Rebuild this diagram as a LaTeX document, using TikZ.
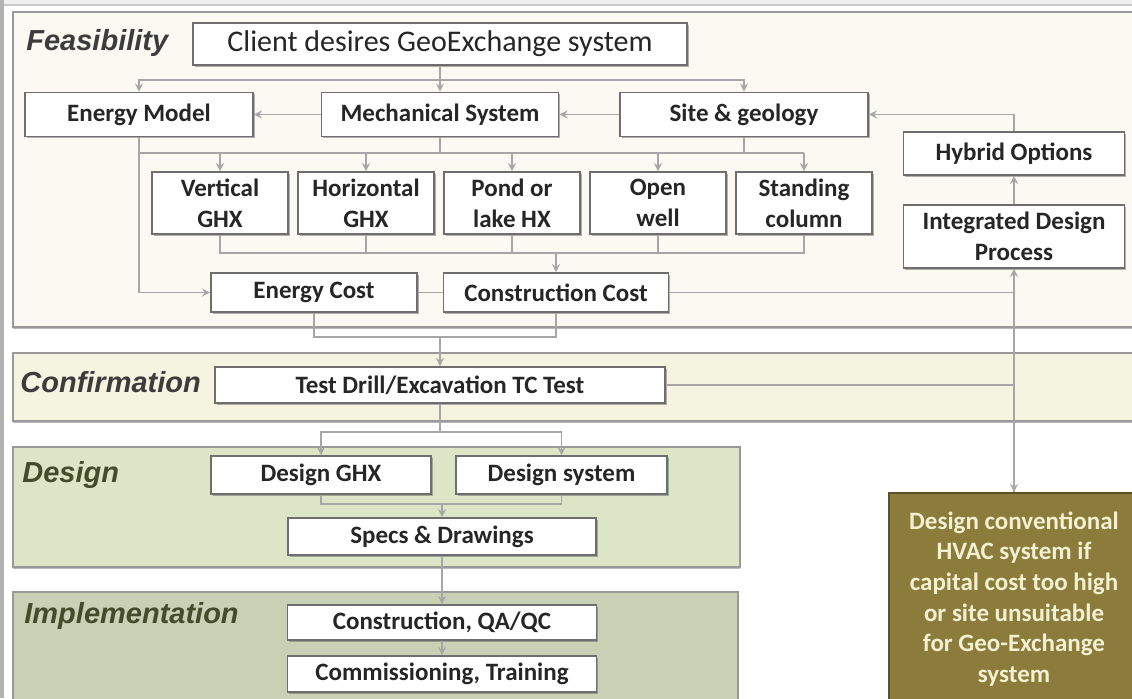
\documentclass[tikz,border=0pt]{standalone}
\usepackage{fontspec}
\setmainfont{Carlito}
\newfontfamily\phasefont{Liberation Sans}
\usetikzlibrary{shapes.geometric, arrows, shadows}

\definecolor{linegray}{HTML}{A6A6A6}
\definecolor{boxline}{HTML}{6E6E6E}
\definecolor{feasfill}{HTML}{FAFAF2}
\definecolor{conffill}{HTML}{F4F4E1}
\definecolor{designfill}{HTML}{DCE5C6}
\definecolor{implfill}{HTML}{C9D0B5}
\definecolor{hvacfill}{HTML}{8C7C3C}
\definecolor{hvactext}{HTML}{F4F0D2}
\definecolor{phasegray}{HTML}{3C3C3C}
\definecolor{phasegreen}{HTML}{434D2C}

\tikzstyle{process} = [
    rectangle,
    draw=boxline,
    line width=0.9pt,
    fill=white,
    drop shadow={shadow xshift=0.8pt, shadow yshift=-0.8pt, fill=black!60},
    font=\fontsize{12.5}{15.5}\selectfont\bfseries,
    text=black!85,
    align=center,
    inner sep=1pt,
    minimum height=22pt
]
\tikzstyle{hvacbox} = [
    rectangle,
    draw=hvacfill!65!black,
    line width=1pt,
    fill=hvacfill,
    text=hvactext,
    font=\fontsize{12.5}{15.3}\selectfont\bfseries,
    align=center,
    minimum width=125.5pt,
    minimum height=106pt
]
\tikzstyle{panel} = [
    draw=black!40,
    line width=0.8pt,
    drop shadow={shadow xshift=0pt, shadow yshift=-1.2pt, fill=black!55}
]
\tikzstyle{phase} = [
    anchor=base west,
    inner sep=0pt,
    font=\phasefont\fontsize{14.5}{17}\selectfont\bfseries\itshape
]
\tikzstyle{link} = [draw=linegray, line width=0.8pt]
\tikzstyle{arrow} = [link, ->, >=stealth]

\begin{document}
\begin{tikzpicture}[x=0.5pt, y=-0.5pt, node distance=73pt]

\useasboundingbox (0,0) rectangle (1132,698);

% screen frame
\fill[black!6] (0,0) rectangle (1132,4);
\draw[black!22, line width=0.8pt] (4,5) -- (1132,5);
\fill[black!30] (0,0) rectangle (4,698);

% phase panels
\draw[panel, fill=feasfill] (13,12) rectangle (1150,327);
\draw[panel, fill=conffill] (13,353) rectangle (1150,421);
\draw[panel, fill=designfill] (13,447) rectangle (740,567);
\draw[panel, fill=implfill] (13,592) rectangle (738,710);

\node (feas) [phase, text=phasegray] at (26,50) {Feasibility};
\node (conf) [phase, text=phasegray] at (20,392) {Confirmation};
\node (desg) [phase, text=phasegreen] at (22,482) {Design};
\node (impl) [phase, text=phasegreen] at (24,623) {Implementation};

% feasibility
\node (client) [process, minimum width=247pt, minimum height=21pt,
    font=\fontsize{15}{18}\selectfont] at (440,44)
{Client desires GeoExchange system};

\node (em) [process, minimum width=114pt] at (139,114.5) {Energy Model};
\node (mech) [process, minimum width=118.5pt] at (440,114.5) {Mechanical System};
\node (site) [process, minimum width=124pt] at (744,114.5) {Site \& geology};

\node (hybrid) [process, minimum width=110.5pt, minimum height=21.5pt] at (1014,153.5)
{Hybrid Options};
\node (idp) [process, minimum width=110.5pt, minimum height=31.5pt] at (1014,236.5)
{Integrated Design\\Process};

\node (vghx) [process, minimum width=68pt, minimum height=31pt] at (220,203)
{Vertical\\GHX};
\node (hghx) [process, minimum width=68pt, minimum height=31pt, right of=vghx]
{Horizontal\\GHX};
\node (pond) [process, minimum width=68pt, minimum height=31pt, right of=hghx]
{Pond or\\lake HX};
\node (well) [process, minimum width=68pt, minimum height=31pt, right of=pond]
{Open\\well};
\node (scol) [process, minimum width=68pt, minimum height=31pt, right of=well]
{Standing\\column};

\node (ecost) [process, minimum width=103pt, minimum height=19.5pt] at (314,292.5)
{Energy Cost};
\node (ccost) [process, minimum width=112.5pt, minimum height=19.5pt] at (556,292.5)
{Construction Cost};

% confirmation
\node (test) [process, minimum width=225pt, minimum height=18pt] at (440,385)
{Test Drill/Excavation TC Test};

% design
\node (dghx) [process, minimum width=110pt, minimum height=19pt] at (321,475)
{Design GHX};
\node (dsys) [process, minimum width=105.5pt, minimum height=19pt] at (561.5,475)
{Design system};
\node (specs) [process, minimum width=154pt, minimum height=18.5pt] at (442,536.5)
{Specs \& Drawings};

% implementation
\node (cqa) [process, minimum width=154.5pt, minimum height=17.5pt] at (442,622.5)
{Construction, QA/QC};
\node (comm) [process, minimum width=154.5pt, minimum height=18pt] at (442,674)
{Commissioning, Training};

\node (hvac) [hvacbox] at (1014,599)
{Design conventional\\HVAC system if\\capital cost too high\\or site unsuitable\\for Geo-Exchange\\system};

% junction points
\coordinate (b1) at (440,80);
\coordinate (b2) at (440,153);
\coordinate (b3) at (556,253);
\coordinate (b4) at (440,337);
\coordinate (b5) at (440,432);
\coordinate (b6) at (442,504);

\draw [arrow] (client.south) -- (mech.north);
\draw [arrow] (b1) -| (em.north);
\draw [arrow] (b1) -| (site.north);

\draw [arrow] (mech.west) -- (em.east);
\draw [arrow] (site.west) -- (mech.east);
\draw [arrow] (hybrid.north) |- (site.east);
\draw [arrow] (idp.north) -- (hybrid.south);

\draw [link] (mech.south) -- (b2);
\draw [link] (site.south) -- (site.south |- b2);
\draw [link] (em.south |- b2) -- (scol.north |- b2);
\draw [arrow] (b2 -| vghx.north) -- (vghx.north);
\draw [arrow] (b2 -| hghx.north) -- (hghx.north);
\draw [arrow] (b2 -| pond.north) -- (pond.north);
\draw [arrow] (b2 -| well.north) -- (well.north);
\draw [arrow] (b2 -| scol.north) -- (scol.north);

\draw [link] (vghx.south) |- (b3);
\draw [link] (scol.south) |- (b3);
\draw [link] (hghx.south) -- (hghx.south |- b3);
\draw [link] (pond.south) -- (pond.south |- b3);
\draw [link] (well.south) -- (well.south |- b3);
\draw [arrow] (b3) -- (ccost.north);

\draw [arrow] (em.south) |- (ecost.west);
\draw [link] (ecost.east) -- (ccost.west);

\draw [link] (ecost.south) |- (b4) -| (ccost.south);
\draw [arrow] (b4) -- (test.north);

\draw [arrow] (ccost.east) -| (idp.south);
\draw [link] (idp.south) -- (hvac.north);
\draw [arrow] (test.east) -| (hvac.north);

\draw [link] (test.south) -- (b5);
\draw [arrow] (b5) -| (dghx.north);
\draw [arrow] (b5) -| (dsys.north);

\draw [link] (dghx.south) |- (b6) -| (dsys.south);
\draw [arrow] (b6) -- (specs.north);
\draw [arrow] (specs.south) -- (cqa.north);
\draw [arrow] (cqa.south) -- (comm.north);

\end{tikzpicture}
\end{document}
